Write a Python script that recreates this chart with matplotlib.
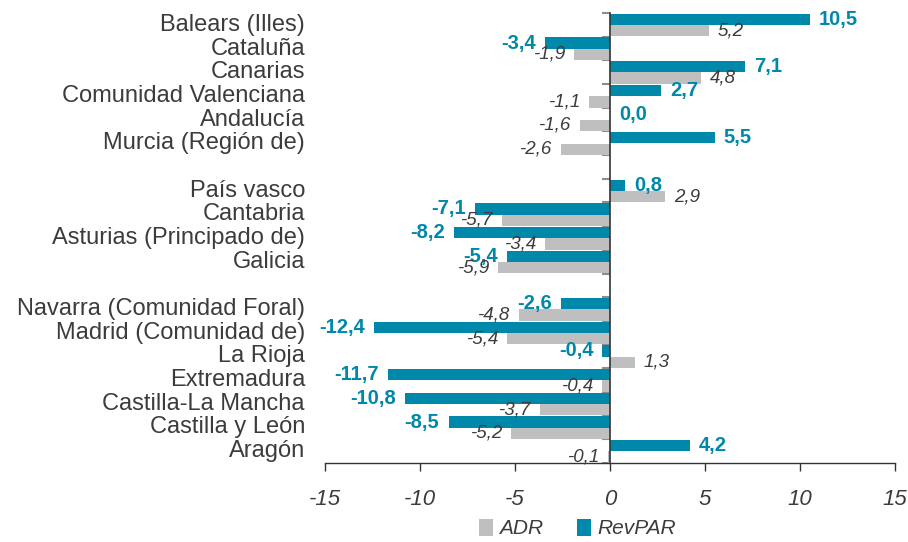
import matplotlib
matplotlib.use("Agg")
import matplotlib.pyplot as plt
from matplotlib.patches import Patch
import numpy as np

plt.rcParams['font.family'] = ['Liberation Sans', 'DejaVu Sans']
plt.rcParams['axes.unicode_minus'] = False

regions = ["Balears (Illes)", "Cataluña", "Canarias", "Comunidad Valenciana",
           "Andalucía", "Murcia (Región de)",
           "País vasco", "Cantabria", "Asturias (Principado de)", "Galicia",
           "Navarra (Comunidad Foral)", "Madrid (Comunidad de)", "La Rioja",
           "Extremadura", "Castilla-La Mancha", "Castilla y León", "Aragón"]
revpar = [10.5, -3.4, 7.1, 2.7, 0.0, 5.5,
          0.8, -7.1, -8.2, -5.4,
          -2.6, -12.4, -0.4, -11.7, -10.8, -8.5, 4.2]
adr = [5.2, -1.9, 4.8, -1.1, -1.6, -2.6,
       2.9, -5.7, -3.4, -5.9,
       -4.8, -5.4, 1.3, -0.4, -3.7, -5.2, -0.1]
group_sizes = [6, 4, 7]
x_ticks = [-15, -10, -5, 0, 5, 10, 15]

TEAL = "#0088AB"
GRAY = "#BFBFBF"
TXT = "#3C3C3C"

# slot positions with one empty slot between groups
slots = []
s = 0
for g in group_sizes:
    for _ in range(g):
        slots.append(s)
        s += 1
    s += 1
n_slots = s - 1
slots = np.array(slots, dtype=float)

fig = plt.figure(figsize=(9.08, 5.42), dpi=100)
ax = fig.add_axes([325/908, 1-463/542, 570/908, 450/542])

h = 0.48
y_rev = slots + 0.27
y_adr = slots + 0.75
ax.barh(y_rev, revpar, height=h, color=TEAL, zorder=2)
ax.barh(y_adr, adr, height=h, color=GRAY, zorder=2)

ax.set_xlim(-15, 15)
ax.set_ylim(n_slots, 0)

def fmt(v):
    return f"{v:.1f}".replace('.', ',')

off = 6.5
for y, v in zip(y_rev, revpar):
    ax.annotate(fmt(v), xy=(v, y), xytext=(off if v >= 0 else -off, 0),
                textcoords='offset points', ha='left' if v >= 0 else 'right',
                va='center', color=TEAL, fontsize=14.5, fontweight='bold', zorder=3)
for y, v in zip(y_adr, adr):
    ax.annotate(fmt(v), xy=(v, y), xytext=(off if v >= 0 else -off, 0),
                textcoords='offset points', ha='left' if v >= 0 else 'right',
                va='center', color=TXT, fontsize=13.5, fontstyle='italic', zorder=3)

# category labels
for y, name in zip(slots + 0.5, regions):
    ax.annotate(name, xy=(0, y), xycoords=ax.get_yaxis_transform(),
                xytext=(-14.4, 0), textcoords='offset points',
                ha='right', va='center', fontsize=17, color=TXT)

# spines
for sp in ['top', 'right']:
    ax.spines[sp].set_visible(False)
ax.spines['left'].set_position(('data', 0))
ax.spines['left'].set_color("#333333")
ax.spines['left'].set_linewidth(1.2)
ax.spines['bottom'].set_color("#333333")
ax.spines['bottom'].set_linewidth(1.0)

ax.set_yticks(np.arange(0, n_slots + 1))
ax.set_yticklabels([])
ax.tick_params(axis='y', direction='out', length=6, width=1.5, color="#8C8C8C")
ax.set_xticks(x_ticks)
ax.set_xticklabels([str(t) for t in x_ticks], fontsize=16, fontstyle='italic', color=TXT)
ax.tick_params(axis='x', direction='out', length=6, width=1.0, color="#333333", pad=13)

handles = [Patch(facecolor=GRAY, label='ADR'), Patch(facecolor=TEAL, label='RevPAR')]
leg = fig.legend(handles=handles, loc='lower center', bbox_to_anchor=(0.636, -0.028),
                 ncol=2, frameon=False, handlelength=0.7, handleheight=0.9,
                 handletextpad=0.3, columnspacing=1.6,
                 prop={'size': 15, 'style': 'italic'})
for t in leg.get_texts():
    t.set_color(TXT)

fig.savefig("out.png", dpi=100)
